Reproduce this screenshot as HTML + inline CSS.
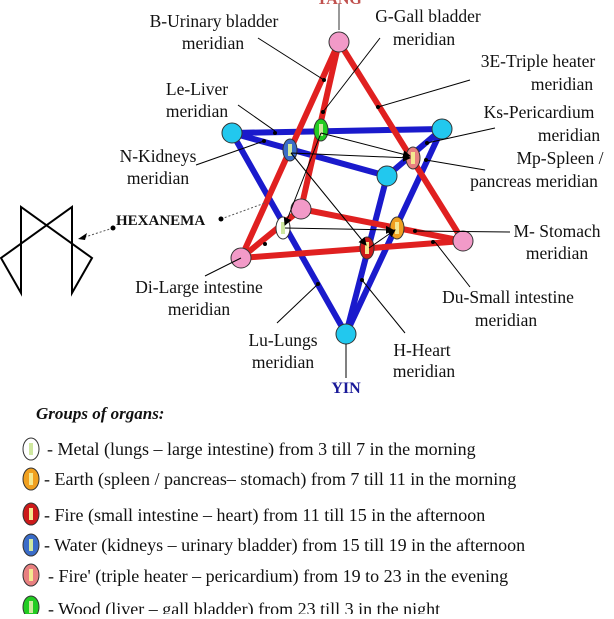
<!DOCTYPE html>
<html><head><meta charset="utf-8"><style>
html,body{margin:0;padding:0;background:#fff}
svg text{font-family:"Liberation Serif",serif;fill:#111}
</style></head><body>
<svg width="614" height="614" viewBox="0 0 614 614" xmlns="http://www.w3.org/2000/svg">
<defs><marker id="ar" markerWidth="8" markerHeight="8" refX="7" refY="4" orient="auto"><path d="M0,0 L8,4 L0,8 z" fill="#000"/></marker></defs>
<text x="339" y="4" font-size="16" font-weight="bold" text-anchor="middle" style="fill:#c0504d">YANG</text>
<line x1="339" y1="4" x2="339" y2="30" stroke="#333" stroke-width="1"/>
<g stroke="#1a1acc" stroke-width="6" stroke-linecap="round">
<line x1="232" y1="133" x2="442" y2="129"/>
<line x1="232" y1="133" x2="387" y2="176"/>
<line x1="387" y1="176" x2="442" y2="129"/>
<line x1="232" y1="133" x2="346" y2="334"/>
<line x1="442" y1="129" x2="346" y2="334"/>
<line x1="387" y1="176" x2="346" y2="334"/>
</g>
<g stroke="#e02020" stroke-width="6" stroke-linecap="round">
<line x1="339" y1="42" x2="241" y2="258"/>
<line x1="339" y1="42" x2="463" y2="241"/>
<line x1="339" y1="42" x2="301" y2="209"/>
<line x1="241" y1="258" x2="301" y2="209"/>
<line x1="301" y1="209" x2="463" y2="241"/>
<line x1="241" y1="258" x2="463" y2="241"/>
</g>
<g stroke="#333" stroke-width="1">
<circle cx="339" cy="42" r="10" fill="#f29ac8"/>
<circle cx="301" cy="209" r="10" fill="#f29ac8"/>
<circle cx="463" cy="241" r="10" fill="#f29ac8"/>
<circle cx="241" cy="258" r="10" fill="#f29ac8"/>
<circle cx="232" cy="133" r="10" fill="#22c8ee"/>
<circle cx="442" cy="129" r="10" fill="#22c8ee"/>
<circle cx="387" cy="176" r="10" fill="#22c8ee"/>
<circle cx="346" cy="334" r="10" fill="#22c8ee"/>
</g>
<g stroke="#333" stroke-width="1">
<ellipse cx="321" cy="130" rx="7" ry="11" fill="#22cc22"/>
<ellipse cx="290" cy="150" rx="7" ry="11" fill="#3a6cc8"/>
<ellipse cx="413" cy="158" rx="7" ry="11" fill="#e88080"/>
<ellipse cx="283" cy="228" rx="7" ry="11" fill="#fff"/>
<ellipse cx="397" cy="228" rx="7" ry="11" fill="#f0a020"/>
<ellipse cx="367" cy="248" rx="7" ry="11" fill="#cc1a1a"/>
</g>
<g fill="#cfe8a0">
<rect x="319" y="124" width="4" height="12"/><rect x="288" y="144" width="4" height="12"/>
<rect x="411" y="152" width="4" height="12" fill="#f4e890"/><rect x="281" y="222" width="4" height="12"/>
<rect x="395" y="222" width="4" height="12" fill="#f4e890"/><rect x="365" y="242" width="4" height="12" fill="#f4e890"/>
</g>
<g stroke="#000" stroke-width="1" marker-end="url(#ar)">
<line x1="321" y1="133" x2="410" y2="156"/>
<line x1="291" y1="153" x2="410" y2="158"/>
<line x1="321" y1="133" x2="285" y2="225"/>
<line x1="285" y1="228" x2="393" y2="230"/>
<line x1="291" y1="153" x2="366" y2="245"/>
<line x1="369" y1="248" x2="395" y2="230"/>
</g>
<g stroke="#000" stroke-width="1" fill="none">
<line x1="258" y1="38" x2="324" y2="80"/>
<line x1="380" y1="38" x2="323" y2="112"/>
<line x1="470" y1="80" x2="378" y2="107"/>
<line x1="238" y1="105" x2="275" y2="131"/>
<line x1="196" y1="165" x2="264" y2="141"/>
<line x1="495" y1="128" x2="427" y2="143"/>
<line x1="485" y1="170" x2="426" y2="160"/>
<line x1="510" y1="232" x2="415" y2="231"/>
<line x1="470" y1="287" x2="435" y2="242"/>
<line x1="205" y1="276" x2="241" y2="258"/>
<line x1="277" y1="323" x2="318" y2="284"/>
<line x1="405" y1="333" x2="362" y2="280"/>
<line x1="346" y1="344" x2="346" y2="378"/>
</g>
<g fill="#000">
<circle cx="324" cy="80" r="2"/><circle cx="323" cy="112" r="2"/><circle cx="378" cy="107" r="2"/>
<circle cx="275" cy="133" r="2"/><circle cx="264" cy="141" r="2"/><circle cx="427" cy="143" r="2"/>
<circle cx="426" cy="160" r="2"/><circle cx="415" cy="231" r="2"/><circle cx="433" cy="242" r="2"/>
<circle cx="318" cy="284" r="2"/><circle cx="362" cy="280" r="2"/><circle cx="265" cy="244" r="2"/>
</g>
<g font-size="17.5" text-anchor="middle">
<text x="214" y="27">B-Urinary bladder</text><text x="213" y="49">meridian</text>
<text x="428" y="22">G-Gall bladder</text><text x="424" y="45">meridian</text>
<text x="538" y="67">3E-Triple heater</text><text x="562" y="90">meridian</text>
<text x="197" y="95">Le-Liver</text><text x="197" y="117">meridian</text>
<text x="158" y="162">N-Kidneys</text><text x="158" y="184">meridian</text>
<text x="539" y="118">Ks-Pericardium</text><text x="569" y="141">meridian</text>
<text x="560" y="164">Mp-Spleen /</text><text x="534" y="187">pancreas meridian</text>
<text x="557" y="237">M- Stomach</text><text x="557" y="259">meridian</text>
<text x="199" y="293">Di-Large intestine</text><text x="199" y="315">meridian</text>
<text x="508" y="303">Du-Small intestine</text><text x="506" y="326">meridian</text>
<text x="283" y="346">Lu-Lungs</text><text x="283" y="368">meridian</text>
<text x="422" y="356">H-Heart</text><text x="424" y="377">meridian</text>
</g>
<text x="346" y="393" font-size="16" font-weight="bold" text-anchor="middle" style="fill:#1a1a99">YIN</text>
<text x="116" y="225" font-size="15" font-weight="bold">HEXANEMA</text>
<line x1="221" y1="219" x2="265" y2="203" stroke="#555" stroke-width="1" stroke-dasharray="2,2"/>
<circle cx="221" cy="219" r="2.5"/>
<line x1="113" y1="228" x2="82" y2="238" stroke="#555" stroke-width="1" stroke-dasharray="2,2"/>
<circle cx="113" cy="228" r="2.5"/>
<path d="M78,239 l9,-6 l-2,7 z" fill="#000"/>
<g stroke="#000" stroke-width="2" fill="none">
<path d="M21,293 L21,207 L92,258 L72,293 L72,207 L1,258 Z"/>
</g>
<text x="36" y="419" font-size="17" font-weight="bold" font-style="italic">Groups of organs:</text>
<g stroke="#333" stroke-width="1">
<ellipse cx="31" cy="449" rx="8" ry="11" fill="#fff"/>
<ellipse cx="31" cy="479" rx="8" ry="11" fill="#f0a020"/>
<ellipse cx="31" cy="514" rx="8" ry="11" fill="#cc1a1a"/>
<ellipse cx="31" cy="545" rx="8" ry="11" fill="#3a6cc8"/>
<ellipse cx="31" cy="575" rx="8" ry="11" fill="#e88080"/>
<ellipse cx="31" cy="607" rx="8" ry="11" fill="#22cc22"/>
</g>
<g fill="#cfe8a0"><rect x="29" y="443" width="4" height="12"/><rect x="29" y="473" width="4" height="12" fill="#f4e890"/><rect x="29" y="508" width="4" height="12" fill="#f4e890"/><rect x="29" y="539" width="4" height="12"/><rect x="29" y="569" width="4" height="12" fill="#f4e890"/><rect x="29" y="601" width="4" height="12"/></g>
<g font-size="18">
<text x="47" y="455">- Metal (lungs – large intestine) from 3 till 7 in the morning</text>
<text x="44" y="485">- Earth (spleen / pancreas– stomach) from 7 till 11 in the morning</text>
<text x="44" y="521">- Fire (small intestine – heart) from 11 till 15 in the afternoon</text>
<text x="44" y="551">- Water (kidneys – urinary bladder) from 15 till 19 in the afternoon</text>
<text x="48" y="582">- Fire' (triple heater – pericardium) from 19 to 23 in the evening</text>
<text x="48" y="615">- Wood (liver – gall bladder) from 23 till 3 in the night</text>
</g>
</svg>
</body></html>
